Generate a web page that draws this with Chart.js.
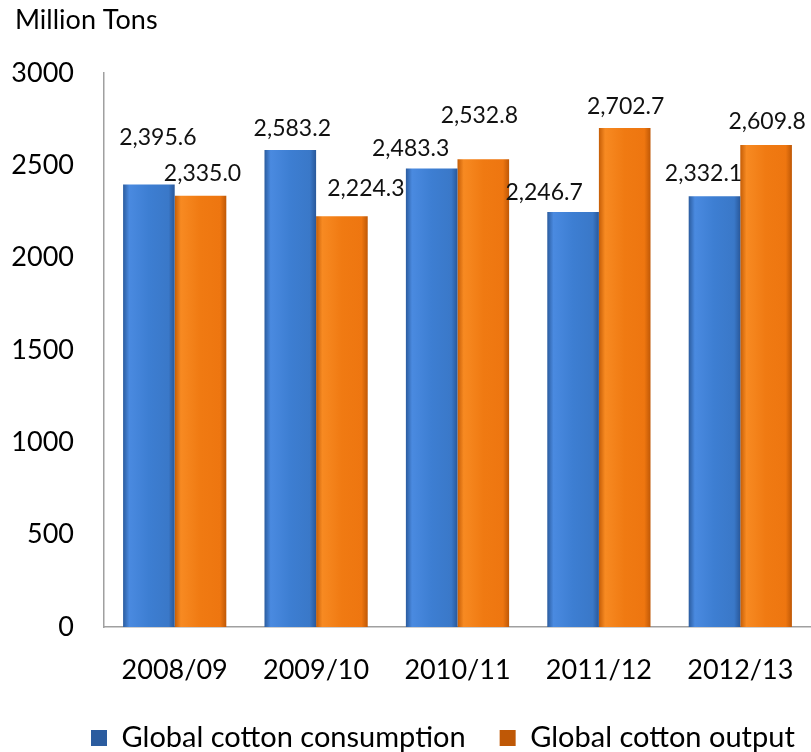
<!DOCTYPE html>
<html>
<head>
<meta charset="utf-8">
<script src="https://cdn.jsdelivr.net/npm/chart.js@4.4.0/dist/chart.umd.min.js"></script>
<style>
html, body { margin: 0; padding: 0; overflow: hidden; background: #fff; }
#wrap { position: relative; width: 811px; height: 752px; }
</style>
</head>
<body>
<div id="wrap"><canvas id="chart"></canvas></div>
<script>
// Datos
const seasons = ['2008/09', '2009/10', '2010/11', '2011/12', '2012/13'];
const consumption = [2395.6, 2583.2, 2483.3, 2246.7, 2332.1];
const output = [2335.0, 2224.3, 2532.8, 2702.7, 2609.8];
const yTicks = [0, 500, 1000, 1500, 2000, 2500, 3000];

// desplazamiento de las etiquetas (dx, dy) respecto al centro superior de cada barra
const consumptionLabelShift = [[9, 47], [2, 21], [-21, 20], [-29, 20], [-11, 23]];
const outputLabelShift = [[2, 22], [24, 28], [-4, 44], [1, 21], [1, 23]];

const CAT_PCT = 0.73;

function barGradient(stops, flat) {
    return function(context) {
        const chart = context.chart;
        const xs = chart.scales.x;
        if (context.type !== 'data' || !xs || !xs.width) return flat;
        const barW = xs.width / seasons.length * CAT_PCT / 2;
        const center = xs.getPixelForValue(context.dataIndex);
        const left = context.datasetIndex === 0 ? center - barW : center;
        const g = chart.ctx.createLinearGradient(left, 0, left + barW, 0);
        stops.forEach(s => g.addColorStop(s[0], s[1]));
        return g;
    };
}

function fmt(v) {
    return v.toLocaleString('en-US', { minimumFractionDigits: 1, maximumFractionDigits: 1 });
}

const valueLabels = {
    id: 'valueLabels',
    afterLayout(chart) {
        // mover leyenda y título como en el original (la leyenda recorta a su caja)
        const lg = chart.legend;
        lg.left -= 47;
        lg.right += 20;
        lg.top -= 22.5;
        chart.titleBlock.left += 5;
        chart.titleBlock.right += 5;
    },
    afterDatasetsDraw(chart) {
        const ctx = chart.ctx;
        ctx.save();
        ctx.font = '23px Lato';
        ctx.fillStyle = '#111';
        ctx.textAlign = 'center';
        ctx.textBaseline = 'middle';
        [consumptionLabelShift, outputLabelShift].forEach((shift, di) => {
            const meta = chart.getDatasetMeta(di);
            meta.data.forEach((bar, i) => {
                const v = chart.data.datasets[di].data[i];
                ctx.fillText(fmt(v), bar.x + shift[i][0], bar.y - shift[i][1]);
            });
        });
        ctx.restore();
    }
};

const ctx = document.getElementById('chart');
new Chart(ctx, {
    type: 'bar',
    data: {
        labels: seasons,
        datasets: [{
            label: 'Global cotton consumption',
            data: consumption,
            backgroundColor: barGradient([[0, '#2b5c9f'], [0.12, '#4a8ae0'], [0.5, '#3d7ed2'], [0.88, '#3a78c8'], [1, '#29589a']], '#3d7ed2'),
            borderWidth: 0
        }, {
            label: 'Global cotton output',
            data: output,
            backgroundColor: barGradient([[0, '#c55d06'], [0.12, '#f78a22'], [0.5, '#f07a12'], [0.88, '#ee7610'], [1, '#bf5806']], '#f07a12'),
            borderWidth: 0
        }]
    },
    options: {
        responsive: true,
        maintainAspectRatio: false,
        animation: false,
        layout: { padding: { left: 10, right: -5, top: 0, bottom: 0 } },
        datasets: {
            bar: { categoryPercentage: CAT_PCT, barPercentage: 1.0 }
        },
        plugins: {
            title: {
                display: true,
                text: 'Million Tons',
                align: 'start',
                color: '#000',
                font: { family: 'Lato', size: 27, weight: 'normal' },
                padding: { top: 4, bottom: 36.6 }
            },
            legend: {
                position: 'bottom',
                align: 'start',
                fullSize: false,
                maxHeight: 40,
                labels: {
                    color: '#000',
                    font: { family: 'Lato', size: 29 },
                    boxWidth: 16,
                    boxHeight: 16,
                    padding: 34
                }
            },
            tooltip: { enabled: false }
        },
        scales: {
            x: {
                grid: { display: false, drawTicks: false },
                border: { display: true, color: '#a0a0a0', width: 1.5 },
                ticks: {
                    color: '#000',
                    font: { family: 'Lato', size: 27 },
                    padding: 27,
                    maxRotation: 0
                },
                afterFit: function(scale) {
                    scale.height = 85;
                    scale.paddingLeft = 0;
                    scale.paddingRight = 0;
                }
            },
            y: {
                min: 0,
                max: 3000,
                grid: { display: false, drawTicks: false },
                border: { display: true, color: '#a0a0a0', width: 1.5 },
                afterBuildTicks: function(scale) {
                    scale.ticks = yTicks.map(v => ({ value: v }));
                },
                ticks: {
                    color: '#000',
                    font: { family: 'Lato', size: 27 },
                    padding: 30,
                    callback: v => String(v)
                },
                afterFit: function(scale) {
                    scale.width = 94;
                    scale.paddingTop = 0;
                    scale.paddingBottom = 0;
                }
            }
        }
    },
    plugins: [valueLabels]
});
</script>
</body>
</html>
